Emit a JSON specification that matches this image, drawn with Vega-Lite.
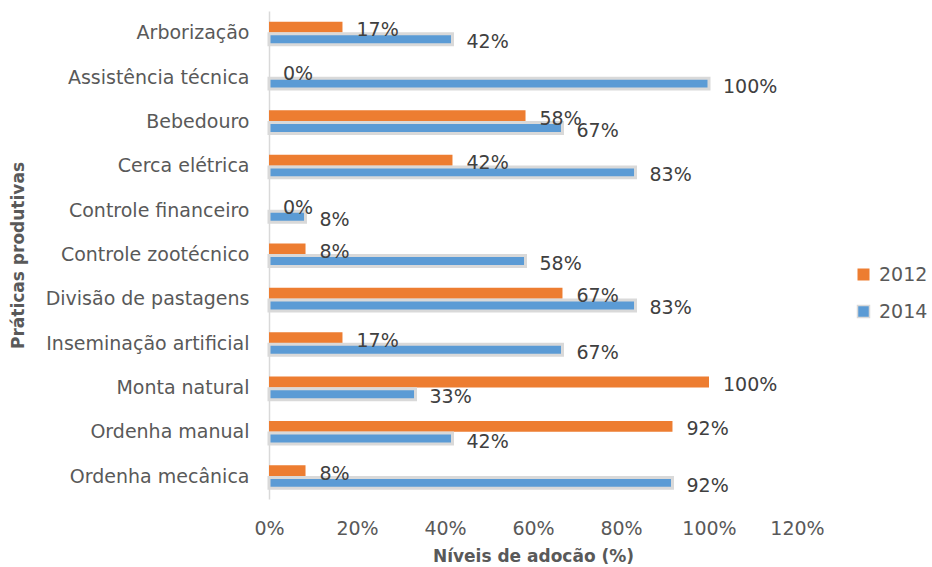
{
  "$schema": "https://vega.github.io/schema/vega-lite/v6.json",
  "autosize": "none",
  "width": 528,
  "height": 488,
  "padding": {"left": 269, "top": 11, "right": 135, "bottom": 68},
  "background": "white",
  "config": {
    "view": {"stroke": null},
    "font": "DejaVu Sans",
    "text": {"font": "DejaVu Sans"}
  },
  "data": {
    "values": [
      {"pratica": "Arborização", "ano": "2012", "valor": 0.167},
      {"pratica": "Arborização", "ano": "2014", "valor": 0.417},
      {"pratica": "Assistência técnica", "ano": "2012", "valor": 0},
      {"pratica": "Assistência técnica", "ano": "2014", "valor": 1.0},
      {"pratica": "Bebedouro", "ano": "2012", "valor": 0.583},
      {"pratica": "Bebedouro", "ano": "2014", "valor": 0.667},
      {"pratica": "Cerca elétrica", "ano": "2012", "valor": 0.417},
      {"pratica": "Cerca elétrica", "ano": "2014", "valor": 0.833},
      {"pratica": "Controle financeiro", "ano": "2012", "valor": 0},
      {"pratica": "Controle financeiro", "ano": "2014", "valor": 0.083},
      {"pratica": "Controle zootécnico", "ano": "2012", "valor": 0.083},
      {"pratica": "Controle zootécnico", "ano": "2014", "valor": 0.583},
      {"pratica": "Divisão de pastagens", "ano": "2012", "valor": 0.667},
      {"pratica": "Divisão de pastagens", "ano": "2014", "valor": 0.833},
      {"pratica": "Inseminação artificial", "ano": "2012", "valor": 0.167},
      {"pratica": "Inseminação artificial", "ano": "2014", "valor": 0.667},
      {"pratica": "Monta natural", "ano": "2012", "valor": 1.0},
      {"pratica": "Monta natural", "ano": "2014", "valor": 0.333},
      {"pratica": "Ordenha manual", "ano": "2012", "valor": 0.917},
      {"pratica": "Ordenha manual", "ano": "2014", "valor": 0.417},
      {"pratica": "Ordenha mecânica", "ano": "2012", "valor": 0.083},
      {"pratica": "Ordenha mecânica", "ano": "2014", "valor": 0.917}
    ]
  },
  "encoding": {
    "y": {
      "field": "pratica",
      "type": "nominal",
      "sort": null,
      "scale": {"paddingInner": 0.48, "paddingOuter": 0.24},
      "axis": {
        "title": "Práticas produtivas",
        "titleFont": "DejaVu Sans",
        "titleFontSize": 17,
        "titleFontWeight": "bold",
        "titleColor": "#595959",
        "titleX": -251,
        "titleBaseline": "middle",
        "labelFont": "DejaVu Sans",
        "labelFontSize": 19,
        "labelColor": "#595959",
        "labelPadding": 20,
        "labelLimit": 400,
        "ticks": false,
        "domainColor": "#D9D9D9",
        "domainWidth": 1.5,
        "grid": false
      }
    },
    "yOffset": {
      "field": "ano",
      "type": "nominal",
      "scale": {"domain": ["2012", "2014"], "paddingInner": 0.1}
    },
    "x": {
      "field": "valor",
      "type": "quantitative",
      "scale": {"domain": [0, 1.2], "nice": false},
      "axis": {
        "title": "Níveis de adocão (%)",
        "titleFont": "DejaVu Sans",
        "titleFontSize": 17,
        "titleFontWeight": "bold",
        "titleColor": "#595959",
        "titlePadding": 10,
        "format": ".0%",
        "values": [0, 0.2, 0.4, 0.6, 0.8, 1.0, 1.2],
        "labelFlush": false,
        "labelFont": "DejaVu Sans",
        "labelFontSize": 19,
        "labelColor": "#595959",
        "labelPadding": 20,
        "ticks": false,
        "domain": false,
        "grid": false
      }
    }
  },
  "layer": [
    {
      "mark": {"type": "bar", "strokeWidth": 3},
      "encoding": {
        "color": {
          "field": "ano",
          "type": "nominal",
          "scale": {"domain": ["2012", "2014"], "range": ["#ED7D31", "#5B9BD5"]},
          "legend": {
            "title": null,
            "orient": "none",
            "legendX": 585,
            "legendY": 254,
            "symbolType": "square",
            "symbolSize": 144,
            "rowPadding": 17,
            "labelFont": "DejaVu Sans",
            "labelFontSize": 19,
            "labelColor": "#595959",
            "labelOffset": 6
          }
        },
        "stroke": {
          "field": "ano",
          "type": "nominal",
          "scale": {"domain": ["2012", "2014"], "range": ["rgba(255,255,255,0)", "#D9D9D9"]},
          "legend": null
        }
      }
    },
    {
      "mark": {
        "type": "text",
        "align": "left",
        "baseline": "middle",
        "dx": 14,
        "dy": 3,
        "font": "DejaVu Sans",
        "fontSize": 19,
        "color": "#404040"
      },
      "encoding": {
        "text": {"field": "valor", "type": "quantitative", "format": ".0%"}
      }
    }
  ]
}
